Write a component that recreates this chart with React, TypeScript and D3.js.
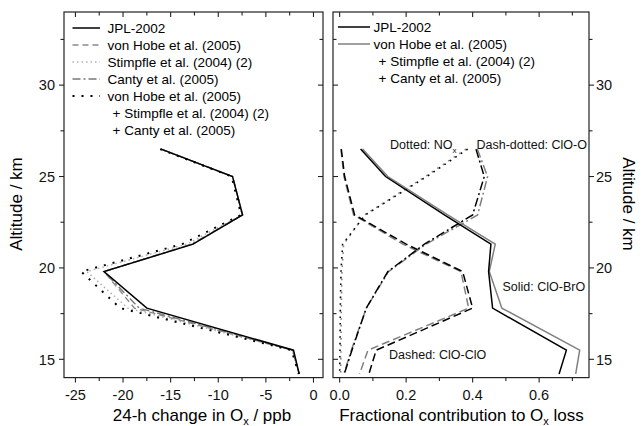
import React, { useEffect, useRef } from 'react';
import * as d3 from 'd3';

// ---------- data ----------
const altitudes = [26.5, 25, 22.9, 21.3, 19.8, 17.8, 15.5, 14.2];

// Left panel: 24-h change in Ox (ppb)
const changeJPL = [-16, -8.5, -7.45, -12.65, -22.0, -17.5, -2.1, -1.5];
const changeVonHobe = [-16, -8.5, -7.45, -12.7, -22.0, -18.8, -2.2, -1.5];
const changeStimpfle = [-16.1, -8.5, -7.5, -13.3, -23.8, -19.5, -2.2, -1.5];
const changeCanty = [-16, -8.5, -7.45, -12.8, -22.0, -18.3, -2.2, -1.5];
const changeCombined = [-16.1, -8.6, -7.6, -13.8, -24.4, -20.3, -2.3, -1.55];

// Right panel: fractional contribution to Ox loss
const brJPL = [0.063, 0.138, 0.315, 0.455, 0.448, 0.46, 0.682, 0.66];
const brNew = [0.069, 0.145, 0.325, 0.468, 0.45, 0.488, 0.722, 0.71];
const dimerJPL = [0.005, 0.015, 0.045, 0.2, 0.37, 0.4, 0.11, 0.088];
const dimerNew = [0.004, 0.013, 0.042, 0.19, 0.365, 0.388, 0.085, 0.06];
const cloOJPL = [0.41, 0.435, 0.4, 0.255, 0.145, 0.08, 0.037, 0.014];
const cloONew = [0.414, 0.445, 0.415, 0.26, 0.147, 0.08, 0.035, 0.013];
const noxJPL = [0.385, 0.262, 0.077, 0.009, 0.004, 0.002, 0.001, 0.0];
const noxNew = [0.38, 0.258, 0.075, 0.012, 0.007, 0.005, 0.004, 0.003];

// ticks
const yMajor = [15, 20, 25, 30];
const yMinor = [17.5, 22.5, 27.5, 32.5];
const leftXMajor = [-25, -20, -15, -10, -5, 0];
const leftXMinor = [-22.5, -17.5, -12.5, -7.5, -2.5];
const rightXMajor = [0, 0.2, 0.4, 0.6];
const rightXMinor = [0.1, 0.3, 0.5, 0.7];

// legends
const leftLegend = ['JPL-2002', 'von Hobe et al. (2005)', 'Stimpfle et al. (2004) (2)', 'Canty et al. (2005)', 'von Hobe et al. (2005)'];
const leftLegendCont = ['+ Stimpfle et al. (2004) (2)', '+ Canty et al. (2005)'];
const rightLegend = ['JPL-2002', 'von Hobe et al. (2005)'];
const rightLegendCont = ['+ Stimpfle et al. (2004) (2)', '+ Canty et al. (2005)'];

const FONT = "'Liberation Sans', Arial, Helvetica, sans-serif";

type Style = { stroke: string; width: number; dash: string | null; cap?: string };
const S_SOLID_K: Style = { stroke: '#000', width: 1.5, dash: null };
const S_SOLID_G: Style = { stroke: '#808080', width: 1.5, dash: null };
const S_DASH_G: Style = { stroke: '#8a8a8a', width: 1.4, dash: '6 4' };
const S_DOT_G: Style = { stroke: '#b0b0b0', width: 1.5, dash: '1.5 3' };
const S_DASHDOT_G: Style = { stroke: '#777', width: 1.4, dash: '8 3 2 3' };
const S_DOT_K: Style = { stroke: '#000', width: 2, dash: '2 7' };

export default function App() {
  const ref = useRef<SVGSVGElement>(null);

  useEffect(() => {
    const svg = d3.select(ref.current);
    svg.selectAll('*').remove();
    svg.attr('font-family', FONT);

    const top = 12;
    const bottom = 377.6;
    const y = d3.scaleLinear().domain([14, 34]).range([bottom, top]);
    const xL = d3.scaleLinear().domain([-26.2, 1]).range([64, 323]);
    const xR = d3.scaleLinear().domain([-0.02, 0.75]).range([333, 589]);

    const applyStyle = (sel: any, s: Style) => {
      sel.attr('fill', 'none').attr('stroke', s.stroke).attr('stroke-width', s.width)
        .attr('stroke-linejoin', 'miter');
      if (s.dash) sel.attr('stroke-dasharray', s.dash);
    };

    // clip paths
    const defs = svg.append('defs');
    defs.append('clipPath').attr('id', 'clipL').append('rect')
      .attr('x', 64).attr('y', top).attr('width', 259).attr('height', bottom - top);
    defs.append('clipPath').attr('id', 'clipR').append('rect')
      .attr('x', 333).attr('y', top).attr('width', 256).attr('height', bottom - top);

    const drawSeries = (g: any, x: any, vals: number[], s: Style) => {
      const line = d3.line<number>().x((d) => x(d)).y((_, i) => y(altitudes[i]));
      const p = g.append('path').attr('d', line(vals));
      applyStyle(p, s);
    };

    // ---- left panel series ----
    const gL = svg.append('g').attr('clip-path', 'url(#clipL)');
    drawSeries(gL, xL, changeStimpfle, S_DOT_G);
    drawSeries(gL, xL, changeCanty, S_DASHDOT_G);
    drawSeries(gL, xL, changeVonHobe, S_DASH_G);
    drawSeries(gL, xL, changeJPL, S_SOLID_K);
    drawSeries(gL, xL, changeCombined, S_DOT_K);

    // ---- right panel series ----
    const gR = svg.append('g').attr('clip-path', 'url(#clipR)');
    const dashG: Style = { stroke: '#808080', width: 1.5, dash: '8 4' };
    const dashK: Style = { stroke: '#000', width: 1.5, dash: '8 4' };
    const ddG: Style = { stroke: '#808080', width: 1.5, dash: '9 3 2 3' };
    const ddK: Style = { stroke: '#000', width: 1.5, dash: '9 3 2 3' };
    const dotG: Style = { stroke: '#808080', width: 1.6, dash: '1.6 5' };
    const dotK: Style = { stroke: '#000', width: 1.6, dash: '1.6 5' };
    drawSeries(gR, xR, noxNew, dotG);
    drawSeries(gR, xR, noxJPL, dotK);
    drawSeries(gR, xR, dimerNew, dashG);
    drawSeries(gR, xR, dimerJPL, dashK);
    drawSeries(gR, xR, cloONew, ddG);
    drawSeries(gR, xR, cloOJPL, ddK);
    drawSeries(gR, xR, brNew, S_SOLID_G);
    drawSeries(gR, xR, brJPL, S_SOLID_K);

    // ---- frames & ticks ----
    const axisColor = '#222';
    const frame = (x0: number, x1: number) => {
      svg.append('rect').attr('x', x0).attr('y', top).attr('width', x1 - x0).attr('height', bottom - top)
        .attr('fill', 'none').attr('stroke', axisColor).attr('stroke-width', 1.2);
    };
    frame(64, 323);
    frame(333, 589);

    const tickG = svg.append('g').attr('stroke', axisColor).attr('stroke-width', 1.1);
    const hTicks = (x: any, vals: number[], len: number) => {
      vals.forEach((v) => {
        const px = x(v);
        tickG.append('line').attr('x1', px).attr('x2', px).attr('y1', bottom).attr('y2', bottom + len);
        tickG.append('line').attr('x1', px).attr('x2', px).attr('y1', top).attr('y2', top + len);
      });
    };
    hTicks(xL, leftXMajor, 5);
    hTicks(xL, leftXMinor, 3.5);
    hTicks(xR, rightXMajor, 5);
    hTicks(xR, rightXMinor, 3.5);

    const vTicks = (vals: number[], len: number) => {
      vals.forEach((v) => {
        const py = y(v);
        // left panel: left outward, right inward
        tickG.append('line').attr('x1', 64).attr('x2', 64 - len).attr('y1', py).attr('y2', py);
        tickG.append('line').attr('x1', 323).attr('x2', 323 - len).attr('y1', py).attr('y2', py);
        // right panel: left inward, right outward
        tickG.append('line').attr('x1', 333).attr('x2', 333 + len).attr('y1', py).attr('y2', py);
        tickG.append('line').attr('x1', 589).attr('x2', 589 + len).attr('y1', py).attr('y2', py);
      });
    };
    vTicks(yMajor, 5);
    vTicks(yMinor, 3.5);

    // tick labels
    const tl = svg.append('g').attr('font-size', 14.5).attr('fill', '#111');
    leftXMajor.forEach((v) => {
      tl.append('text').attr('x', xL(v)).attr('y', 400).attr('text-anchor', 'middle').text(String(v));
    });
    rightXMajor.forEach((v) => {
      tl.append('text').attr('x', xR(v)).attr('y', 400).attr('text-anchor', 'middle').text(d3.format('.1f')(v));
    });
    yMajor.forEach((v) => {
      tl.append('text').attr('x', 55).attr('y', y(v)).attr('dy', '0.36em').attr('text-anchor', 'end').text(String(v));
      tl.append('text').attr('x', 596).attr('y', y(v)).attr('dy', '0.36em').attr('text-anchor', 'start').text(String(v));
    });

    // axis titles
    const sub = (t: any, main: string, s: string, rest: string) => {
      t.append('tspan').text(main);
      t.append('tspan').attr('font-size', '0.65em').attr('dy', 4).text(s);
      t.append('tspan').attr('dy', -4).text(rest);
    };
    const t1 = svg.append('text').attr('x', 202).attr('y', 421).attr('text-anchor', 'middle').attr('font-size', 17);
    sub(t1, '24-h change in O', 'x', ' / ppb');
    const t2 = svg.append('text').attr('x', 461.5).attr('y', 421).attr('text-anchor', 'middle').attr('font-size', 17);
    sub(t2, 'Fractional contribution to O', 'x', ' loss');
    svg.append('text').attr('transform', 'translate(22,204) rotate(-90)').attr('text-anchor', 'middle')
      .attr('font-size', 17).text('Altitude / km');
    svg.append('text').attr('transform', 'translate(623,204) rotate(90)').attr('text-anchor', 'middle')
      .attr('font-size', 17).text('Altitude / km');

    // legends
    const lg = svg.append('g').attr('font-size', 13.5);
    const leftStyles = [S_SOLID_K, S_DASH_G, S_DOT_G, S_DASHDOT_G, S_DOT_K];
    leftLegend.forEach((lab, i) => {
      const cy = 28 + i * 17;
      const l = lg.append('line').attr('x1', 72.5).attr('x2', 100).attr('y1', cy).attr('y2', cy);
      applyStyle(l, leftStyles[i]);
      lg.append('text').attr('x', 107.5).attr('y', cy).attr('dy', '0.36em').text(lab);
    });
    leftLegendCont.forEach((lab, i) => {
      const cy = 28 + (leftLegend.length + i) * 17;
      lg.append('text').attr('x', 112.5).attr('y', cy).attr('dy', '0.36em').text(lab);
    });
    const rightStyles = [S_SOLID_K, S_SOLID_G];
    rightLegend.forEach((lab, i) => {
      const cy = 27 + i * 17;
      const l = lg.append('line').attr('x1', 338).attr('x2', 370).attr('y1', cy).attr('y2', cy);
      applyStyle(l, rightStyles[i]);
      lg.append('text').attr('x', 373.5).attr('y', cy).attr('dy', '0.36em').text(lab);
    });
    rightLegendCont.forEach((lab, i) => {
      const cy = 27 + (rightLegend.length + i) * 17;
      lg.append('text').attr('x', 378.5).attr('y', cy).attr('dy', '0.36em').text(lab);
    });

    // annotations
    const an = svg.append('g').attr('font-size', 12.5).attr('fill', '#111');
    const a1 = an.append('text').attr('x', 390).attr('y', 149);
    sub(a1, 'Dotted: NO', 'x', '');
    an.append('text').attr('x', 476.5).attr('y', 149).text('Dash-dotted: ClO-O');
    an.append('text').attr('x', 502.5).attr('y', 290.5).text('Solid: ClO-BrO');
    an.append('text').attr('x', 389).attr('y', 359).text('Dashed: ClO-ClO');
  }, []);

  return (
    <svg
      ref={ref}
      width={642}
      height={426}
      style={{ position: 'absolute', left: 0, top: 0, background: '#fff' }}
    />
  );
}
